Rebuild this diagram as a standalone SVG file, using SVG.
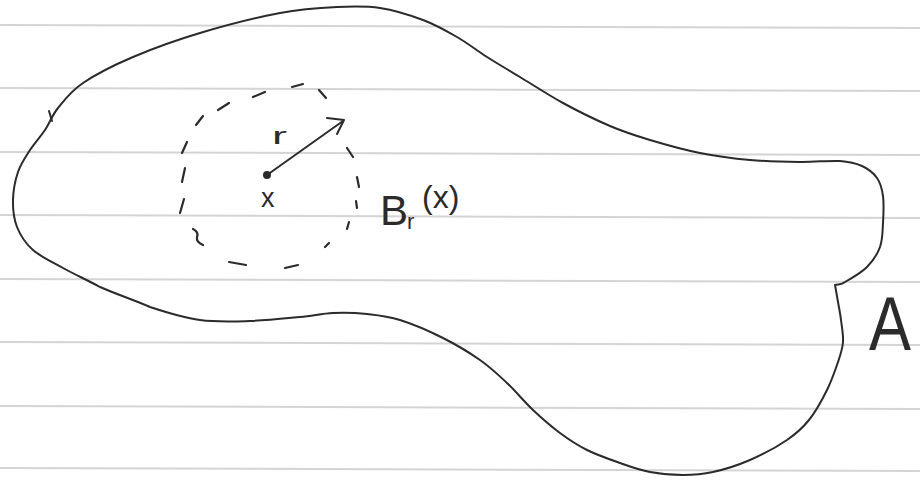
<svg xmlns="http://www.w3.org/2000/svg" width="920" height="480" viewBox="0 0 920 480">
<style>
.rule{stroke:#d4d4d4;stroke-width:2;fill:none}
.ink{stroke:#2b2b2b;stroke-width:2;fill:none;stroke-linecap:round;stroke-linejoin:round}
.dash{stroke:#2b2b2b;stroke-width:2.2;fill:none;stroke-linecap:round}
.lbl{font-family:"Liberation Sans",Arial,sans-serif;fill:#2b2b2b}
</style>
<rect width="920" height="480" fill="#ffffff"/>
<g id="paper-lines">
<line class="rule" x1="0" y1="25" x2="920" y2="28"/>
<line class="rule" x1="0" y1="88" x2="920" y2="91"/>
<line class="rule" x1="0" y1="152" x2="920" y2="155"/>
<line class="rule" x1="0" y1="215" x2="920" y2="218"/>
<line class="rule" x1="0" y1="279" x2="920" y2="282"/>
<line class="rule" x1="0" y1="342" x2="920" y2="345"/>
<line class="rule" x1="0" y1="406" x2="920" y2="409"/>
<line class="rule" x1="0" y1="468" x2="920" y2="471"/>
</g>
<g id="set-A">
<path class="ink" d="M 835,285 C 836,290.7 837,296.2 838,302 C 839,307.8 840.2,313.3 841,320 C 841.8,326.7 843.5,335 843,342 C 842.5,349 840.7,354 838,362 C 835.3,370 831.8,380.3 827,390 C 822.2,399.7 815.7,411.7 809,420 C 802.3,428.3 796.8,433.3 787,440 C 777.2,446.7 762.3,454.7 750,460 C 737.7,465.3 724.2,469.5 713,472 C 701.8,474.5 693.5,475 683,475 C 672.5,475 660.5,474 650,472 C 639.5,470 630.5,466.7 620,463 C 609.5,459.3 597,455 587,450 C 577,445 569,439.7 560,433 C 551,426.3 541.8,418.3 533,410 C 524.2,401.7 515.8,391.3 507,383 C 498.2,374.7 490.7,367.5 480,360 C 469.3,352.5 456.3,344.7 443,338 C 429.7,331.3 412.7,324 400,320 C 387.3,316 378.2,315.2 367,314 C 355.8,312.8 344.2,312.5 333,313 C 321.8,313.5 313.8,315.7 300,317 C 286.2,318.3 266.7,320.5 250,321 C 233.3,321.5 216.7,322.3 200,320 C 183.3,317.7 166.7,312.5 150,307 C 135.5,300.5 114.5,293.5 100,287 C 88.8,280.8 74.2,274.2 63,268 C 51.8,261.8 40.7,256.8 33,250 C 25.3,243.2 20.3,235.3 17,227 C 13.7,218.7 12.8,209.2 13,200 C 13.2,190.8 15.2,180.3 18,172 C 20.8,163.7 25.5,157 30,150 C 34.5,143 40.3,137 45,130 C 49.7,123 51.7,115.8 58,108 C 64.3,100.2 70.5,91.5 83,83 C 95.5,74.5 113.5,65.3 133,57 C 152.5,48.7 175.5,40.3 200,33 C 224.5,25.7 257.2,17.3 280,13 C 302.8,8.7 320.3,7.8 337,7 C 353.7,6.2 365.7,5.8 380,8 C 394.3,10.2 410.2,15.2 423,20 C 435.8,24.8 446.3,30.8 457,37 C 467.7,43.2 476.5,50.3 487,57 C 497.5,63.7 507.3,69.3 520,77 C 532.7,84.7 548,94.8 563,103 C 578,111.2 595.5,119.8 610,126 C 624.5,132.2 635,135.5 650,140 C 665,144.5 683.3,149.7 700,153 C 716.7,156.3 733.3,158.5 750,160 C 766.7,161.5 785,161.8 800,162 C 815,162.2 829.7,160.3 840,161 C 850.3,161.7 855.8,163.2 862,166 C 868.2,168.8 873.5,173 877,178 C 880.5,183 882,188.5 883,196 C 884,203.5 883.5,214.5 883,223 C 882.5,231.5 882.7,239.7 880,247 C 877.3,254.3 872.8,261.2 867,267 C 861.2,272.8 850.3,279 845,282 C 841.7,285 838.3,284 835,285"/>
<path class="ink" d="M 49,111 L 52,121"/>
<text class="lbl" x="869" y="350" font-size="76" textLength="42" lengthAdjust="spacingAndGlyphs">A</text>
</g>
<g id="ball">
<path class="dash" d="M292,87 L303,84"/>
<path class="dash" d="M253,97 L265,92"/>
<path class="dash" d="M218,110 L229,103"/>
<path class="dash" d="M196,125 L203,116"/>
<path class="dash" d="M182,153 L187,142"/>
<path class="dash" d="M182,182 L185,168"/>
<path class="dash" d="M180,213 L184,199"/>
<path class="dash" d="M193,229 Q199,232 197,237 Q196,242 203,245"/>
<path class="dash" d="M229,262 L246,265"/>
<path class="dash" d="M285,268 L298,265"/>
<path class="dash" d="M325,247 L329,243"/>
<path class="dash" d="M347,229 L349,222"/>
<path class="dash" d="M356,201 L357,208"/>
<path class="dash" d="M357,177 L359,187"/>
<path class="dash" d="M347,148 L353,157"/>
<path class="dash" d="M319,90 L326,98"/>
<text class="lbl" x="380" y="225" font-size="42">B</text>
<text class="lbl" x="407" y="229" font-size="22">r</text>
<text class="lbl" x="422" y="208" font-size="32">(x)</text>
</g>
<g id="center-x">
<circle cx="267" cy="175" r="4" fill="#2b2b2b"/>
<text class="lbl" x="261" y="207" font-size="27">x</text>
</g>
<g id="connectors">
<path class="ink" d="M267,175 L343,121"/>
<path class="ink" d="M327,118 L344,120 L337,134"/>
<text class="lbl" x="272" y="144" font-size="24" textLength="15" lengthAdjust="spacingAndGlyphs">r</text>
</g>
</svg>
